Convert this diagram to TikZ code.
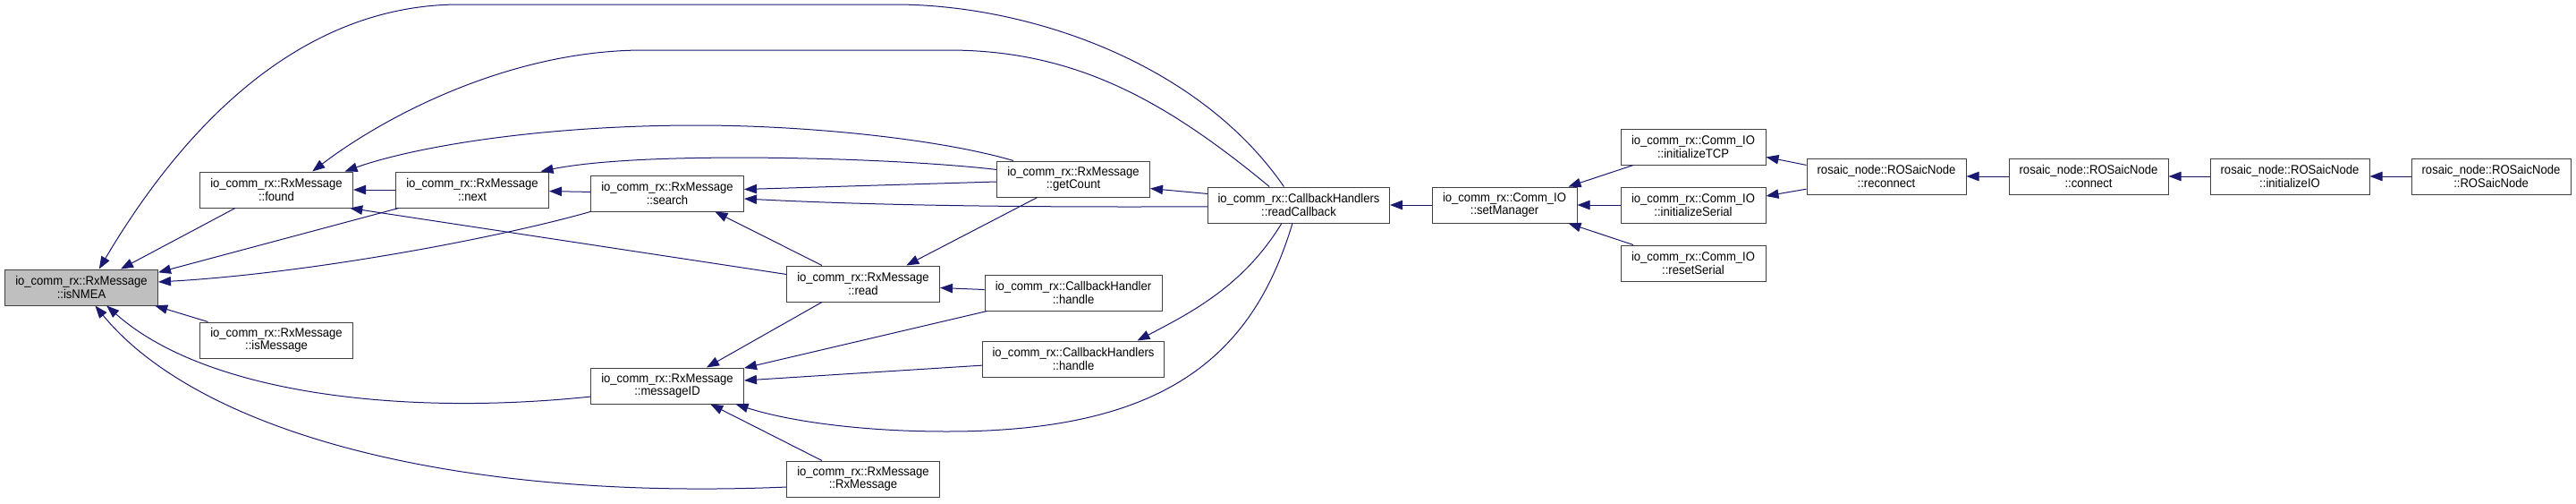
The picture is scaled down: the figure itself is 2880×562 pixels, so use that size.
\documentclass[tikz,border=0pt]{standalone}
\usepackage{fontspec}
\setmainfont{Liberation Sans}[FakeStretch=0.93]
\usetikzlibrary{arrows.meta}
\definecolor{edgec}{HTML}{191970}
\definecolor{boxc}{HTML}{404040}
\definecolor{curc}{HTML}{BFBFBF}
\tikzset{
  fn/.style   ={draw=boxc,line width=0.25mm,fill=white,align=center,inner sep=0pt,
                minimum width=42.75mm,minimum height=10mm,font=\fontsize{10}{10.2}\selectfont},
  cur/.style  ={fn,fill=curc},
  cbk/.style  ={fn,minimum width=50.75mm},
  cbh/.style  ={fn,minimum width=49.5mm},
  cio/.style  ={fn,minimum width=40.5mm},
  ros/.style  ={fn,minimum width=44.5mm},
  call/.style ={-{Triangle[length=3.5mm,width=2.6mm]},draw=edgec,line width=0.25mm},
}

\begin{document}
\begin{tikzpicture}[x=0.25mm,y=-0.25mm]
  \useasboundingbox (0,0) rectangle (2880,562);
  % RxMessage members
  \node[cur] (isNMEA)    at (91,321)  {io\_comm\_rx::RxMessage\\::isNMEA};
  \node[fn]  (found)     at (309,212) {io\_comm\_rx::RxMessage\\::found};
  \node[fn]  (next)      at (528,212) {io\_comm\_rx::RxMessage\\::next};
  \node[fn]  (isMessage) at (309,380) {io\_comm\_rx::RxMessage\\::isMessage};
  \node[fn]  (search)    at (746,216) {io\_comm\_rx::RxMessage\\::search};
  \node[fn]  (messageID) at (746,431) {io\_comm\_rx::RxMessage\\::messageID};
  \node[fn]  (read)      at (965,317) {io\_comm\_rx::RxMessage\\::read};
  \node[fn]  (ctor)      at (965,535) {io\_comm\_rx::RxMessage\\::RxMessage};
  \node[fn]  (getCount)  at (1200,200) {io\_comm\_rx::RxMessage\\::getCount};
  % handlers
  \node[cbh] (hdl)       at (1200,327) {io\_comm\_rx::CallbackHandler\\::handle};
  \node[cbk] (hdls)      at (1200,401) {io\_comm\_rx::CallbackHandlers\\::handle};
  \node[cbk] (readCb)    at (1452,229) {io\_comm\_rx::CallbackHandlers\\::readCallback};
  % Comm_IO and node
  \node[cio] (setMgr)    at (1682,229) {io\_comm\_rx::Comm\_IO\\::setManager};
  \node[cio] (initTCP)   at (1893,164) {io\_comm\_rx::Comm\_IO\\::initializeTCP};
  \node[cio] (initSer)   at (1893,229) {io\_comm\_rx::Comm\_IO\\::initializeSerial};
  \node[cio] (resetSer)  at (1893,294) {io\_comm\_rx::Comm\_IO\\::resetSerial};
  \node[ros] (reconn)    at (2109,197) {rosaic\_node::ROSaicNode\\::reconnect};
  \node[ros] (conn)      at (2335,197) {rosaic\_node::ROSaicNode\\::connect};
  \node[ros] (initIO)    at (2560,197) {rosaic\_node::ROSaicNode\\::initializeIO};
  \node[ros] (rosNode)   at (2785,197) {rosaic\_node::ROSaicNode\\::ROSaicNode};

  % calls from readCallback
  \draw[call] (readCb.129) .. controls (1340,70) and (1150,5) .. (1000,5) -- (514,5)
              .. controls (330,5) and (200,150) .. (isNMEA.46);
  \draw[call] (readCb.148) .. controls (1300,110) and (1200,56) .. (1060,56) -- (720,56)
              .. controls (570,56) and (430,130) .. (found.27);
  \draw[call] (readCb.173) -- (getCount.-7);
  \draw[call] (readCb.181) .. controls (1100,232) and (950,228) .. (search.-4);
  \draw[call] (readCb.-133) .. controls (1390,320) and (1330,350) .. (hdls.16);
  \draw[call] (readCb.-109) .. controls (1400,400) and (1300,482) .. (1059,482)
              .. controls (960,482) and (880,470) .. (messageID.-15);
  % calls from getCount
  \draw[call] (getCount.163) .. controls (1050,155) and (900,140) .. (780,140)
              .. controls (600,140) and (460,165) .. (found.15);
  \draw[call] (getCount.173) .. controls (1000,176) and (720,168) .. (next.15);
  \draw[call] (getCount.182) -- (search.3);
  \draw[call] (getCount.-153) -- (read.23);
  % RxMessage internals
  \draw[call] (search) -- (next);
  \draw[call] (next) -- (found);
  \draw[call] (found.-156) -- (isNMEA.25);
  \draw[call] (next.-166) -- (isNMEA.11);
  \draw[call] (search.south west) .. controls (560,265) and (350,305) .. (isNMEA.4);
  \draw[call] (read.173) -- (found.-14);
  \draw[call] (read.156) -- (search.-21);
  \draw[call] (read.-156) -- (messageID.25);
  \draw[call] (hdl.178) -- (read.-3);
  \draw[call] (hdl.192) -- (messageID.13);
  \draw[call] (hdls.184) -- (messageID.4);
  \draw[call] (messageID.188) .. controls (450,465) and (230,440) .. (isNMEA.-36);
  \draw[call] (ctor.186) .. controls (500,560) and (220,480) .. (isNMEA.-53);
  \draw[call] (ctor.156) -- (messageID.-23);
  \draw[call] (isMessage.165) -- (isNMEA.-14);
  % upper chain
  \draw[call] (setMgr) -- (readCb);
  \draw[call] (initTCP.-163) -- (setMgr.16);
  \draw[call] (initSer) -- (setMgr);
  \draw[call] (resetSer.163) -- (setMgr.-16);
  \draw[call] (reconn.172) -- (initTCP.-8);
  \draw[call] (reconn.189) -- (initSer.7);
  \draw[call] (conn) -- (reconn);
  \draw[call] (initIO) -- (conn);
  \draw[call] (rosNode) -- (initIO);
\end{tikzpicture}
\end{document}
